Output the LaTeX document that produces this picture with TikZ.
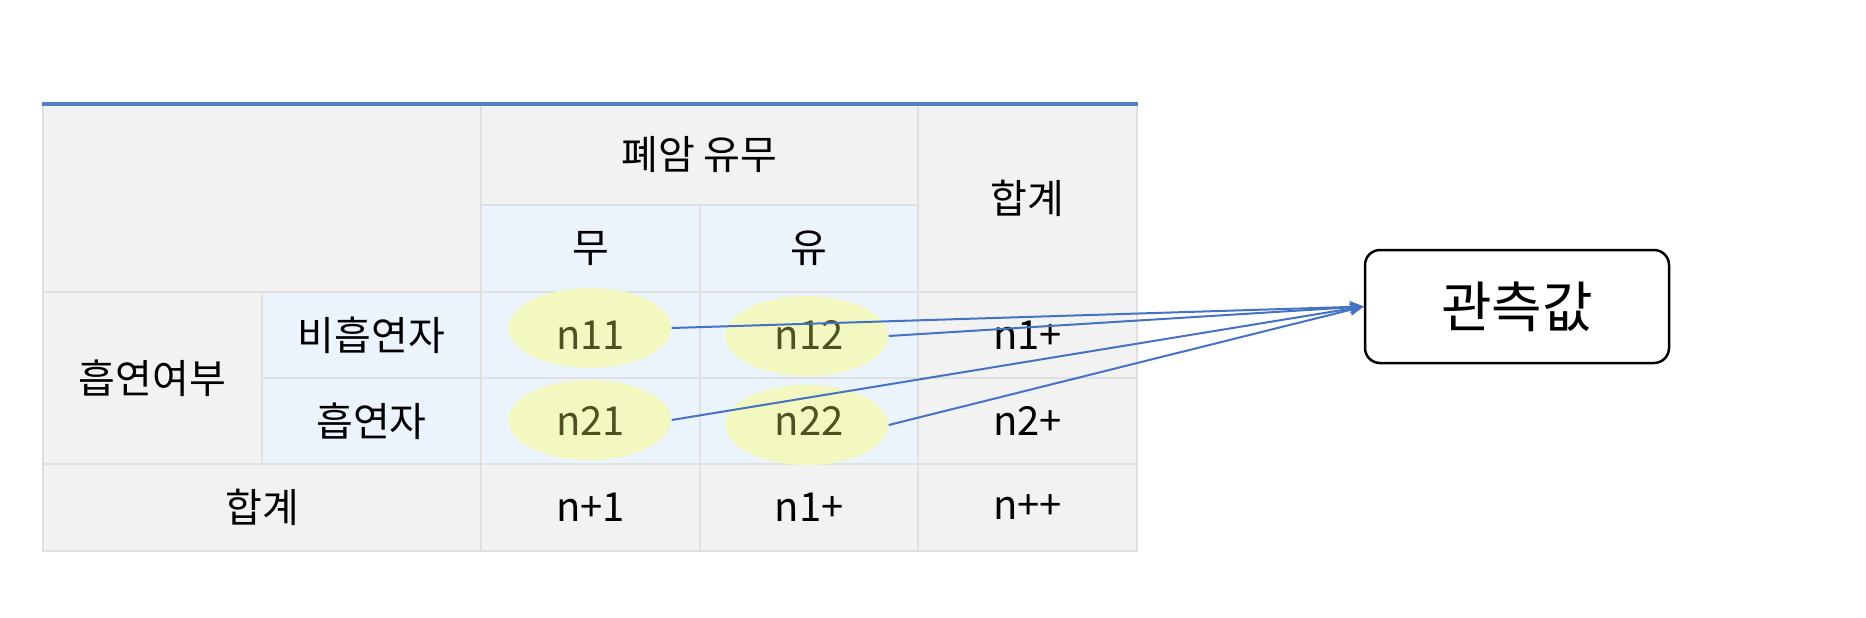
\documentclass[tikz,border=0pt]{standalone}
\usepackage{fontspec}
\setmainfont{Noto Sans CJK KR}
\usetikzlibrary{arrows.meta,shapes.geometric}
\definecolor{gcol}{HTML}{F2F2F2}
\definecolor{bcol}{HTML}{EBF3FC}
\definecolor{gridc}{HTML}{E0E0E0}
\definecolor{topblue}{HTML}{5580C0}
\definecolor{arrblue}{HTML}{4472C4}
\definecolor{yel}{HTML}{F3F7C0}
\definecolor{olive}{HTML}{505020}
\tikzset{
  cellbase/.style={draw=gridc, line width=2pt, inner sep=0pt, font=\fontsize{40}{48}\selectfont},
  gcell/.style={cellbase, fill=gcol},
  bcell/.style={cellbase, fill=bcol},
  yell/.style={ellipse, fill=yel, minimum width=163pt, minimum height=80pt, inner sep=0pt},
  valtxt/.style={inner sep=0pt, text=olive, font=\fontsize{40}{48}\selectfont},
  obsbox/.style={draw=black, line width=2.5pt, rounded corners=15pt, minimum width=304pt, minimum height=113pt, inner sep=0pt, font=\fontsize{55}{66}\selectfont},
  arr/.style={draw=arrblue, line width=2pt, -{Stealth[length=14pt,width=12pt]}},
  blueline/.style={draw=topblue, line width=4pt}
}
\begin{document}
\begin{tikzpicture}[x=1pt,y=-1pt]
\useasboundingbox (0,0) rectangle (1866,618);
% header
\node[gcell, minimum width=438pt, minimum height=187pt] (tl) at (262,198.5) {};
\node[gcell, minimum width=437pt, minimum height=100pt] (pyum) at (699.5,155) {폐암 유무};
\node[gcell, minimum width=219pt, minimum height=187pt] (hapH) at (1027.5,198.5) {합계};
\node[bcell, minimum width=219pt, minimum height=87pt] (mu) at (590.5,248.5) {무};
\node[bcell, minimum width=218pt, minimum height=87pt] (yu) at (809,248.5) {유};
% body
\node[gcell, minimum width=219pt, minimum height=172pt] (smk) at (152.5,378) {흡연여부};
\node[bcell, minimum width=219pt, minimum height=86pt] (nsmk) at (371.5,335) {비흡연자};
\node[bcell, minimum width=219pt, minimum height=86pt] (smkr) at (371.5,421) {흡연자};
\node[bcell, minimum width=219pt, minimum height=86pt] (c11) at (590.5,335) {};
\node[bcell, minimum width=218pt, minimum height=86pt] (c12) at (809,335) {};
\node[bcell, minimum width=219pt, minimum height=86pt] (c21) at (590.5,421) {};
\node[bcell, minimum width=218pt, minimum height=86pt] (c22) at (809,421) {};
\node[gcell, minimum width=219pt, minimum height=86pt] (r1) at (1027.5,335) {n1+};
\node[gcell, minimum width=219pt, minimum height=86pt] (r2) at (1027.5,421) {n2+};
% bottom row
\node[gcell, minimum width=438pt, minimum height=87pt] (hapB) at (262,507.5) {합계};
\node[gcell, minimum width=219pt, minimum height=87pt] (b1) at (590.5,507.5) {n+1};
\node[gcell, minimum width=218pt, minimum height=87pt] (b2) at (809,507.5) {n1+};
\node[gcell, minimum width=219pt, minimum height=87pt] (b3) at (1027.5,507.5) {n++};
% top rule
\draw[blueline] (tl.north west) -- (hapH.north east);
% highlighted values
\node[yell] (e11) at (590,328) {};
\node[yell] (e12) at (807,336) {};
\node[yell] (e21) at (590,420) {};
\node[yell] (e22) at (807,425) {};
\node[valtxt] (t11) at (c11) {n11};
\node[valtxt] (t12) at (c12) {n12};
\node[valtxt] (t21) at (c21) {n21};
\node[valtxt] (t22) at (c22) {n22};
% observed box
\node[obsbox] (obs) at (1517,306.5) {관측값};
\draw[arr] (e11.east) -- (obs.west);
\draw[arr] (e12.east) -- (obs.west);
\draw[arr] (e21.east) -- (obs.west);
\draw[arr] (e22.east) -- (obs.west);
\end{tikzpicture}
\end{document}
